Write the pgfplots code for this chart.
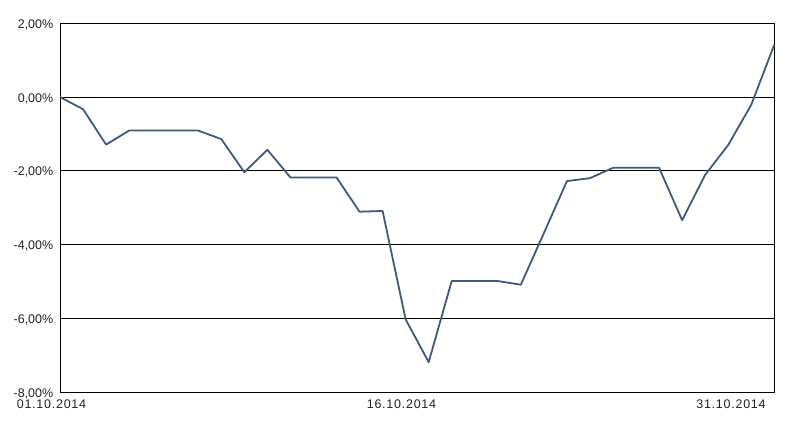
\documentclass[border=0pt]{standalone}
\usepackage{fontspec}
\setmainfont{Liberation Sans}
\usepackage{pgfplots}
\pgfplotsset{compat=1.18}

\definecolor{perfline}{HTML}{3E5B7C}
\definecolor{labeltext}{HTML}{222222}

\begin{document}
\begin{tikzpicture}
\begin{axis}[
	scale only axis,
	width=714.3pt,
	height=368.7pt,
	xmin=0, xmax=31,
	ymin=-8, ymax=2,
	axis line style={black, line width=0.7pt},
	major tick length=0pt,
	ytick={-8,-6,-4,-2,0,2},
	ymajorgrids,
	major grid style={black, line width=0.7pt},
	/pgf/number format/assume math mode=true,
	yticklabel={\pgfmathprintnumber[fixed,fixed zerofill,precision=2,use comma]{\tick}\%},
	yticklabel style={font=\fontsize{12.5}{15}\selectfont, text=labeltext, xshift=-3.2pt, yshift=-1.5pt},
	xtick={0,14.82,29.12},
	xticklabels={\hspace*{-17pt}01.10.2014, 16.10.2014, 31.10.2014},
	xticklabel style={font=\fontsize{12.5}{15}\selectfont\addfontfeature{LetterSpace=6}, text=labeltext, yshift=-4.4pt},
	clip=false,
]
\addplot[perfline, line width=1.8pt, line join=round] coordinates {
	(0, 0.00) (1, -0.33) (2, -1.29) (3, -0.91) (4, -0.91) (5, -0.91)
	(6, -0.91) (7, -1.14) (8, -2.04) (9, -1.43) (10, -2.18) (11, -2.18)
	(12, -2.18) (13, -3.11) (14, -3.09) (15, -6.03) (16, -7.19) (17, -4.99)
	(18, -4.99) (19, -4.99) (20, -5.09) (21, -3.69) (22, -2.28) (23, -2.20)
	(24, -1.92) (25, -1.92) (26, -1.92) (27, -3.34) (28, -2.11) (29, -1.30)
	(30, -0.21) (31, 1.42)
};
\end{axis}
\path ([xshift=-60pt,yshift=-36pt]current axis.south west)
	rectangle ([xshift=22.7pt,yshift=23.3pt]current axis.north east);
\end{tikzpicture}
\end{document}
